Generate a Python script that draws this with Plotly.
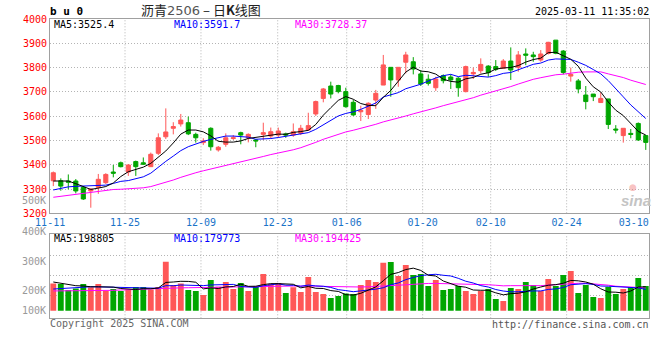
import plotly.graph_objects as go

# ---------------- data ----------------
dates = ['11-11','11-12','11-13','11-14','11-15','11-18','11-19','11-20','11-21','11-22',
         '11-25','11-26','11-27','11-28','11-29','12-02','12-03','12-04','12-05','12-06',
         '12-09','12-10','12-11','12-12','12-13','12-16','12-17','12-18','12-19','12-20',
         '12-23','12-24','12-25','12-26','12-27','12-30','12-31','01-02','01-03','01-06',
         '01-07','01-08','01-09','01-10','01-13','01-14','01-15','01-16','01-17','01-20',
         '01-21','01-22','01-23','01-24','01-27','02-05','02-06','02-07','02-10','02-11',
         '02-12','02-13','02-14','02-17','02-18','02-19','02-20','02-21','02-24','02-25',
         '02-26','02-27','02-28','03-03','03-04','03-05','03-06','03-07','03-10','03-11']

opens = [3334,3334,3333,3333,3307,3292,3307,3326,3370,3408,
         3370,3413,3408,3392,3447,3515,3550,3568,3573,3525,
         3491,3550,3461,3484,3508,3532,3511,3502,3525,3518,
         3522,3527,3522,3529,3543,3609,3673,3724,3726,3701,
         3657,3618,3607,3666,3728,3801,3749,3822,3824,3774,
         3752,3717,3767,3761,3756,3701,3774,3787,3806,3804,
         3797,3827,3801,3856,3852,3831,3858,3913,3868,3765,
         3745,3687,3691,3656,3671,3547,3520,3529,3570,3520]
highs = [3372,3344,3360,3341,3312,3303,3362,3365,3399,3413,
         3402,3417,3430,3450,3529,3632,3575,3609,3598,3532,
         3509,3554,3477,3529,3522,3536,3529,3505,3573,3553,
         3553,3532,3570,3564,3614,3664,3716,3742,3729,3717,
         3667,3643,3657,3708,3852,3801,3801,3865,3843,3790,
         3772,3762,3772,3772,3761,3808,3800,3838,3810,3831,
         3835,3883,3868,3879,3865,3872,3906,3913,3872,3800,
         3753,3724,3691,3698,3671,3563,3550,3547,3574,3522]
lows = [3312,3293,3299,3282,3255,3223,3280,3321,3348,3389,
        3354,3354,3399,3392,3440,3506,3525,3557,3522,3491,
        3481,3458,3454,3474,3502,3484,3492,3472,3502,3509,
        3511,3511,3515,3522,3539,3601,3657,3673,3694,3635,
        3601,3580,3588,3630,3728,3680,3721,3776,3772,3724,
        3726,3704,3735,3712,3680,3698,3753,3776,3762,3786,
        3794,3749,3783,3810,3824,3824,3854,3855,3772,3742,
        3694,3628,3662,3656,3547,3529,3491,3509,3498,3461]
closes = [3367,3312,3328,3292,3259,3300,3340,3360,3365,3392,
          3399,3392,3402,3443,3511,3535,3557,3584,3527,3511,
          3498,3474,3472,3511,3511,3522,3525,3498,3532,3536,
          3539,3522,3536,3550,3561,3660,3712,3691,3701,3639,
          3605,3624,3653,3694,3811,3749,3801,3852,3794,3732,
          3735,3753,3746,3749,3717,3804,3780,3813,3779,3793,
          3827,3790,3852,3851,3845,3856,3904,3859,3780,3772,
          3712,3660,3680,3673,3566,3543,3550,3525,3502,3492]

ma5 = [3333,3334,3333,3322,3311.6,3298.2,3303.8,3310.2,3324.8,3351.4,
       3371.2,3381.6,3390.0,3405.6,3429.4,3456.6,3489.6,3526.0,3542.8,3542.8,
       3535.4,3518.8,3496.4,3493.2,3493.2,3498.0,3508.2,3513.4,3517.6,3522.6,
       3526.0,3525.4,3533.0,3536.6,3541.6,3565.8,3603.8,3634.8,3665.0,3680.6,
       3669.6,3652.0,3644.4,3643.0,3677.4,3706.2,3741.6,3781.4,3801.4,3785.6,
       3782.8,3773.2,3752.0,3743.0,3740.0,3753.8,3759.2,3772.6,3778.6,3793.8,
       3798.4,3800.4,3808.2,3822.6,3833.0,3838.8,3861.6,3863.0,3848.8,3834.2,
       3805.4,3756.6,3720.8,3699.4,3658.2,3624.4,3602.4,3571.4,3537.2,3522.4]
ma10 = [3296,3303,3309,3311,3312,3312,3313,3316,3323,3331.5,
        3334.7,3342.7,3350.1,3365.2,3390.4,3413.9,3435.6,3458.0,3474.2,3486.1,
        3496.0,3504.2,3511.2,3518.0,3518.0,3516.7,3513.5,3504.9,3505.4,3507.9,
        3512.0,3516.8,3523.2,3527.1,3532.1,3545.9,3564.6,3583.9,3600.8,3611.1,
        3617.7,3627.9,3639.6,3654.0,3679.0,3687.9,3696.8,3712.9,3722.2,3731.5,
        3744.5,3757.4,3766.7,3772.2,3762.8,3768.3,3766.2,3762.3,3760.8,3766.9,
        3776.1,3779.8,3790.4,3800.6,3813.4,3818.6,3831.0,3835.6,3835.7,3833.6,
        3822.1,3809.1,3791.9,3774.1,3746.2,3714.9,3679.5,3646.1,3618.3,3590.3]
ma30 = [3266,3270,3274,3278,3282,3287,3292,3296,3298,3299,
        3300,3301,3305,3310,3318,3327,3337,3348,3359,3367,
        3375,3382,3389,3397,3405,3412,3419,3426,3434,3441.8,
        3447.6,3454.6,3461.5,3470.1,3480.2,3492.2,3504.6,3515.6,3526.8,3535.0,
        3541.9,3549.6,3558.0,3566.4,3576.4,3583.5,3591.6,3600.6,3609.5,3616.8,
        3624.7,3634.0,3643.2,3651.1,3658.0,3667.4,3675.9,3686.4,3694.6,3703.2,
        3712.8,3721.7,3732.2,3742.3,3751.7,3758.3,3764.7,3770.3,3772.9,3777.3,
        3780.9,3782.1,3783.0,3782.3,3774.1,3767.3,3758.9,3748.0,3738.3,3730.3]

# volume in thousands of lots
volumes = [229,224,174,187,224,196,224,165,182,165,
           179,199,199,179,199,412,216,229,174,165,
           132,258,202,241,182,233,165,207,308,224,
           233,149,196,157,283,157,140,107,123,145,
           140,216,258,241,403,409,291,384,300,308,
           207,258,174,182,207,165,140,165,182,98,
           81,191,182,241,216,165,266,207,300,333,
           149,216,115,107,199,140,182,199,275,207]
vma5 = [241,232,220,210,207.6,201,201,199.2,198.2,186.4,
        183,178,184.8,184.2,191,237.6,241,247,246,239.2,
        183.2,191.6,186.2,199.6,203,223.2,204.6,205.6,219,227.4,
        227.4,224.2,222,191.8,203.6,188.4,186.6,168.8,162,134.4,
        131,146.2,176.4,200,251.6,305.4,320.4,345.6,357.4,338.4,
        298,291.4,249.4,225.8,205.6,197.2,173.6,171.8,171.8,150,
        133.2,143.4,146.8,158.6,182.2,199,214,219,230.8,254.2,
        251,241,222.6,184,157.2,155.4,148.6,165.4,199,200.6]
vma10 = [182,186,190,194,200,201,200,199,198,197,
         192,189.5,192,191.2,188.7,210.3,209.5,215.9,215.1,215.1,
         210.4,216.3,216.6,222.8,221.1,203.2,198.1,195.9,209.3,215.2,
         225.3,214.4,213.8,205.4,215.5,207.9,205.4,195.4,176.9,169,
         159.7,166.4,172.6,181,193,218.2,233.3,261,278.7,295,
         301.7,305.9,297.5,291.6,272,247.6,232.5,210.6,198.8,177.8,
         165.2,158.5,159.3,165.2,166.1,166.1,178.7,182.9,194.7,218.2,
         225,227.5,220.8,207.4,205.7,203.2,194.8,194,191.5,178.9]
vma30 = [166,166,167,167,168,168,169,170,171,174,
         177,180,182,184,185,188,190,192,193,194,
         195,196,197,198,200,201,203,205,207,209.1,
         209.2,206.7,207.5,206.5,208.4,207.1,204.3,202.4,200.4,199.8,
         198.5,199,201,203.1,209.9,209.8,212.3,217.4,221.6,226.4,
         228.9,228.9,228,226,226.8,224.6,223.7,222.3,218.1,213.9,
         208.9,210.3,209.8,212.6,210.4,210.6,214.8,218.2,224.1,230.3,
         230.6,230.6,225.9,221.4,214.6,205.6,202,195.8,195,191.6]

tick_dates = ['11-11','11-25','12-09','12-23','01-06','01-20','02-10','02-24','03-10']
price_ticks = [3200,3300,3400,3500,3600,3700,3800,3900,4000]

# ---------------- layout constants ----------------
W, H = 660, 360
MONO = 'DejaVu Sans Mono'
RED = '#ff5757'
GREEN = '#00a600'
GRID = '#b4b4b4'
FRAME = '#a0a0a0'
DOT = '1px,2px'

def fx(px):
    return px / W

def fy(py):
    return 1 - py / H

x = list(range(len(dates)))
# gridline positions (slightly drifting like in the original), label positions
grid_pos = [9.56, 19.69, 29.92, 39.12, 49.25, 58.32, 68.45]
label_pos = [-0.42] + grid_pos + [77.4]
xrange = [-0.44, 79.43]

fig = go.Figure()

fig.add_trace(go.Candlestick(
    x=x, open=opens, high=highs, low=lows, close=closes,
    increasing=dict(line=dict(color=RED, width=1), fillcolor=RED),
    decreasing=dict(line=dict(color=GREEN, width=1), fillcolor=GREEN),
    whiskerwidth=0, xaxis='x', yaxis='y', hoverinfo='skip'))
for vals, col in [(ma30, '#ff00ff'), (ma10, '#0000ff'), (ma5, '#000000')]:
    fig.add_trace(go.Scatter(x=x, y=vals, mode='lines', line=dict(color=col, width=1),
                             xaxis='x', yaxis='y', hoverinfo='skip'))

vol_colors = [RED if c >= o else GREEN for o, c in zip(opens, closes)]
fig.add_trace(go.Bar(x=x, y=volumes, marker=dict(color=vol_colors, line=dict(width=0)),
                     width=0.78, xaxis='x2', yaxis='y2', hoverinfo='skip'))
for vals, col in [(vma30, '#ff00ff'), (vma10, '#0000ff'), (vma5, '#000000')]:
    fig.add_trace(go.Scatter(x=x, y=vals, mode='lines', line=dict(color=col, width=1),
                             xaxis='x2', yaxis='y2', hoverinfo='skip'))

# vertical dotted gridlines in both panels
shapes = []
for g in grid_pos:
    for xr, yr in [('x', 'y domain'), ('x2', 'y2 domain')]:
        shapes.append(dict(type='line', xref=xr, yref=yr, x0=g, x1=g, y0=0, y1=1,
                           line=dict(color=GRID, width=1, dash=DOT), layer='below'))

axis_common = dict(showline=True, mirror=True, linecolor=FRAME, linewidth=1,
                   zeroline=False, ticks='', fixedrange=True, automargin=False)

fig.update_layout(
    template='none',
    width=W, height=H, margin=dict(l=0, r=0, t=0, b=0, pad=0),
    paper_bgcolor='white', plot_bgcolor='white',
    showlegend=False, hovermode=False, boxgap=0.22,
    shapes=shapes,
    xaxis=dict(domain=[fx(50), fx(649)], range=xrange, anchor='y',
               tickmode='array', tickvals=label_pos, ticktext=tick_dates,
               tickfont=dict(family=MONO, size=10, color='#1a73c8'),
               showgrid=False, rangeslider=dict(visible=False), **axis_common),
    yaxis=dict(domain=[fy(213.3), fy(19)], range=[3200, 4000], anchor='x',
               tickmode='array', tickvals=price_ticks, ticktext=[str(v) for v in price_ticks],
               tickfont=dict(family=MONO, size=10, color='#ff0000'),
               showgrid=True, gridcolor=GRID, griddash=DOT, gridwidth=1, **axis_common),
    xaxis2=dict(domain=[fx(50), fx(649)], range=xrange, anchor='y2', matches='x',
                showticklabels=False, showgrid=False, **axis_common),
    yaxis2=dict(domain=[fy(318.3), fy(234.3)], range=[-63.84, 641.76], anchor='x2',
                tickmode='array', tickvals=[126, 297.4, 465.4], showticklabels=False,
                showgrid=True, gridcolor=GRID, griddash=DOT, gridwidth=1, **axis_common),
)

def note(text, px, py, color, size=10, xanchor='left', family=MONO):
    fig.add_annotation(text=text, x=fx(px), y=fy(py), xref='paper', yref='paper',
                       xanchor=xanchor, yanchor='middle', showarrow=False, borderpad=0,
                       font=dict(family=family, size=size, color=color))

note('<b>b u 0</b>', 49, 11, '#000000', size=11)
note('沥青<span style="font-family:DejaVu Sans;color:#555">2506</span> – 日<b>K</b>线图',
     140, 9, '#222222', size=13, family='Noto Sans CJK SC')
note('2025-03-11 11:35:02', 650, 12, '#000000', xanchor='right')

note('MA5:3525.4', 53, 24.5, '#000000')
note('MA10:3591.7', 173, 24.5, '#0000ff')
note('MA30:3728.37', 294, 24.5, '#ff00ff')

note('MA5:198805', 53, 238, '#000000')
note('MA10:179773', 173, 238, '#0000ff')
note('MA30:194425', 294, 238, '#ff00ff')

for lbl, py in [('500K', 200), ('400K', 231), ('300K', 261), ('200K', 290), ('100K', 310)]:
    note(lbl, 47, py, '#999999', xanchor='right')

note('Copyright 2025 SINA.COM', 49, 323.5, '#666666')
note('http://finance.sina.com.cn', 650, 324, '#555555', xanchor='right')

note('<b><i>sina</i></b>', 636, 200, '#c4c4c4', size=15, xanchor='center', family='Liberation Sans')
note('●', 633, 187, 'rgba(240,120,120,0.45)', size=9, xanchor='center', family='DejaVu Sans')

fig.write_html('out.html', config={'displayModeBar': False, 'staticPlot': True},
               post_script="document.body.style.margin='0px';document.body.style.overflow='hidden';")
